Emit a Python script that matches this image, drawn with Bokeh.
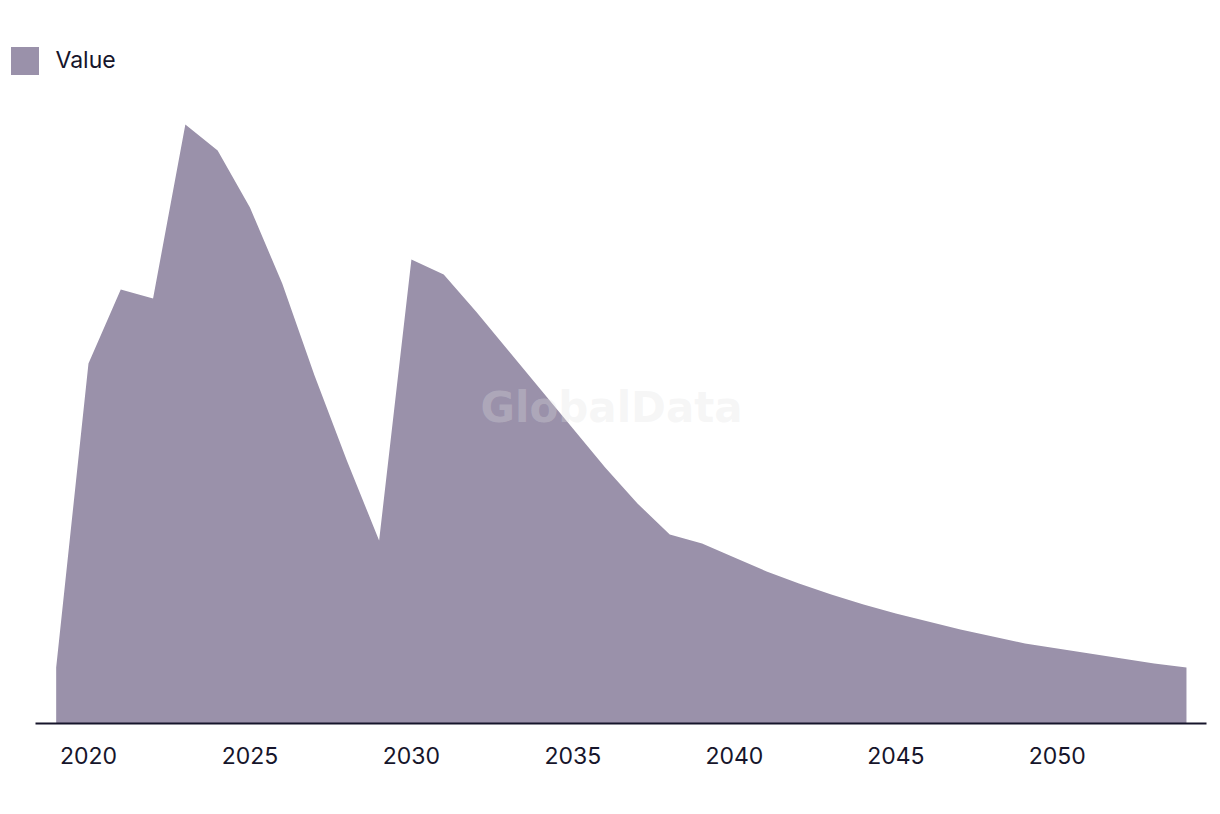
from bokeh.plotting import figure
from bokeh.models import Range1d, FixedTicker, Legend, LegendItem, Label
from bokeh.embed import file_html
from bokeh.resources import INLINE

years = list(range(2019, 2055))
values = [5.6, 36.0, 43.4, 42.5, 59.9, 57.3, 51.6, 44.0, 34.8, 26.3, 18.3,
          46.4, 44.9, 41.2, 37.3, 33.4, 29.5, 25.6, 22.0, 18.9, 18.0,
          16.6, 15.2, 14.0, 12.9, 11.9, 11.0, 10.2, 9.4, 8.7, 8.0,
          7.5, 7.0, 6.5, 6.0, 5.6]
tick_years = [2020, 2025, 2030, 2035, 2040, 2045, 2050]
series_name = "Value"
watermark = "GlobalData"

TEXT = "#16152b"
FILL = "#9a91aa"

p = figure(width=1220, height=814, output_backend="svg", toolbar_location=None,
           x_range=Range1d(2017.276, 2054.62), y_range=Range1d(0, 72.3),
           min_border_left=0, min_border_right=14, min_border_top=0,
           min_border_bottom=91, outline_line_color=None)
p.yaxis.visible = False
p.xgrid.visible = False
p.ygrid.visible = False

r = p.varea(x=years, y1=0, y2=values, fill_color=FILL, fill_alpha=1.0)

p.xaxis.ticker = FixedTicker(ticks=tick_years)
p.xaxis.bounds = (2018.36, 2054.62)
p.xaxis.axis_line_color = TEXT
p.xaxis.axis_line_width = 2
p.xaxis.major_tick_line_color = None
p.xaxis.minor_tick_line_color = None
p.xaxis.major_tick_out = 0
p.xaxis.major_label_standoff = 23
p.xaxis.major_label_text_font = "Inter"
p.xaxis.major_label_text_font_size = "23px"
p.xaxis.major_label_text_color = TEXT

wm = Label(x=2036.2, y=31.6, text=watermark, text_align="center", text_baseline="middle",
           text_font="DejaVu Sans", text_font_style="bold", text_font_size="42px",
           text_color="#e0e0e0", text_alpha=0.3)
p.add_layout(wm)

legend = Legend(items=[LegendItem(label=series_name, renderers=[r])],
                location=(6.5, 645.5), orientation="horizontal",
                glyph_width=35, glyph_height=35, label_standoff=14,
                label_text_font="Inter", label_text_font_size="23px",
                label_text_color=TEXT, label_text_baseline="middle",
                padding=0, margin=0, spacing=0,
                border_line_color=None, background_fill_alpha=0)
p.add_layout(legend)

open("out.html", "w").write(file_html(p, INLINE))
